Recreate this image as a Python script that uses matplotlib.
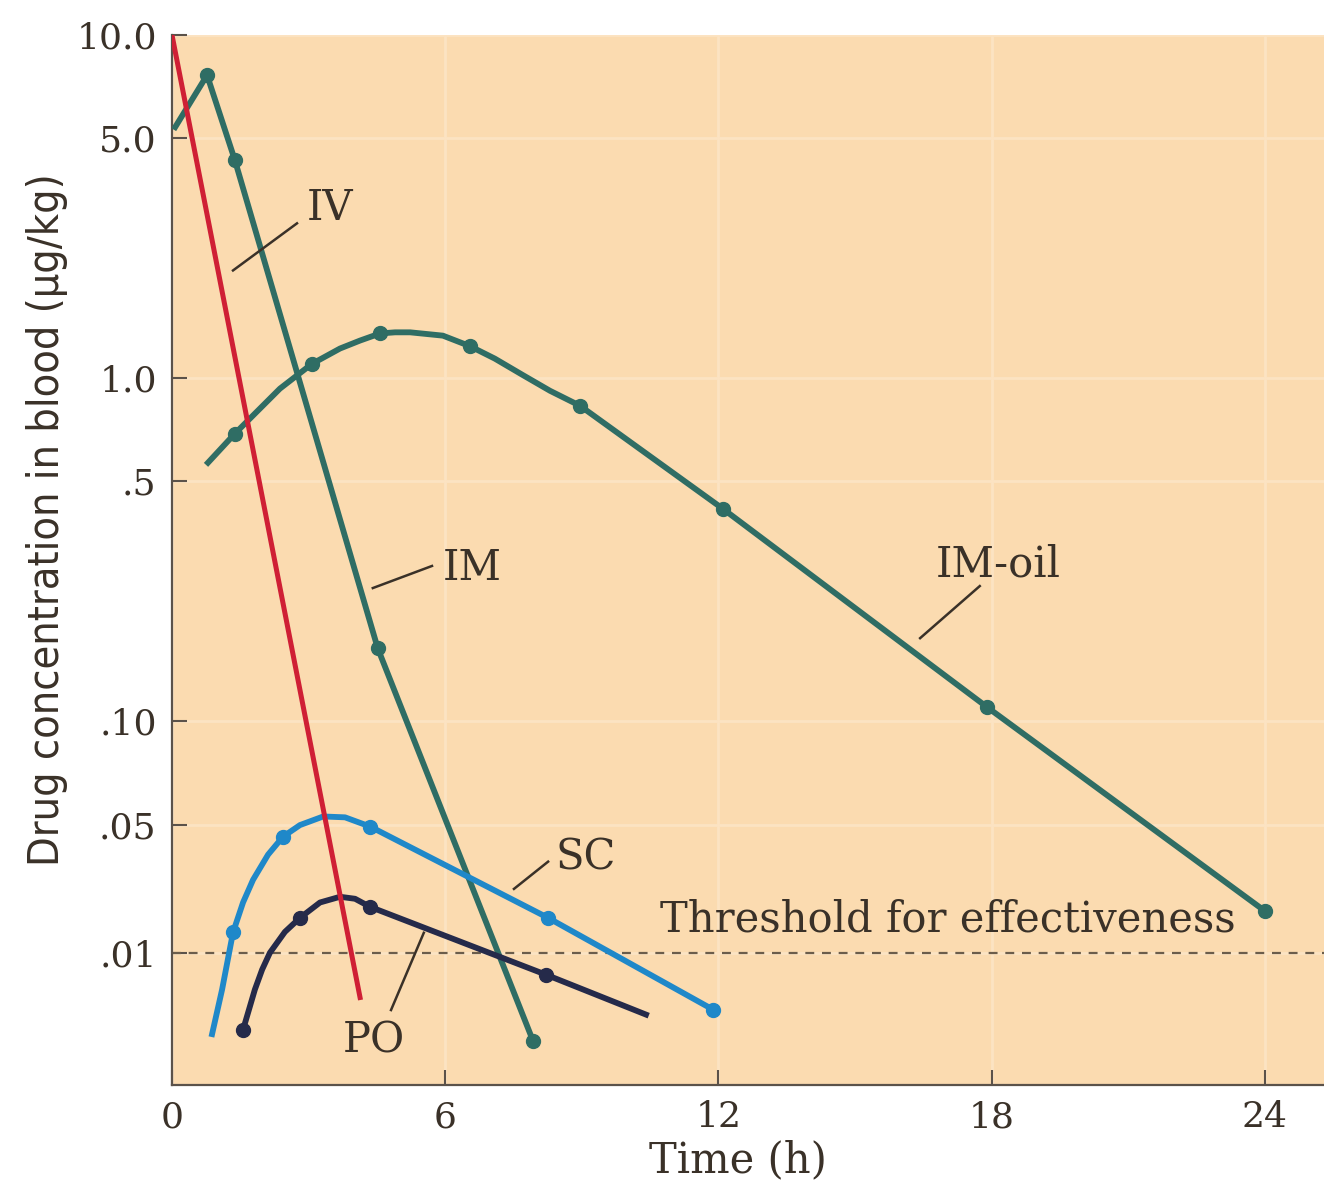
import numpy as np
import matplotlib
matplotlib.use('Agg')
import matplotlib.pyplot as plt

# values: time (h) and drug concentration (ug/kg)
iv_t = [0.0, 4.13]
iv_c = [10.0, 0.0057]

im_t = [0.07, 0.77, 1.38, 4.52, 7.93]
im_c = [5.39, 7.64, 4.32, 0.163, 0.0033]
im_marks = [1, 2, 3, 4]

oil_t = [0.79, 1.38, 2.37, 3.07, 3.69, 4.13, 4.57, 4.90, 5.23, 5.95, 6.54, 7.09, 7.71, 8.30, 8.96,
         12.1, 17.9, 24.0]
oil_c = [0.567, 0.689, 0.932, 1.10, 1.22, 1.287, 1.35, 1.36, 1.36, 1.33, 1.24, 1.14, 1.02, 0.919, 0.831,
         0.416, 0.110, 0.0169]
oil_marks = [1, 3, 6, 10, 14, 15, 16, 17]

sc_t = [0.88, 1.10, 1.34, 1.56, 1.78, 2.11, 2.44, 2.81, 3.32, 3.80, 4.35, 8.26, 11.88]
sc_c = [0.0036, 0.0063, 0.0129, 0.0188, 0.025, 0.0343, 0.043, 0.0497, 0.0528, 0.0525, 0.0488, 0.0155, 0.0049]
sc_marks = [2, 6, 10, 11, 12]

po_t = [1.56, 1.82, 1.98, 2.15, 2.48, 2.81, 3.25, 3.69, 4.02, 4.35, 8.21, 10.41]
po_c = [0.0038, 0.0063, 0.0081, 0.0100, 0.0130, 0.0155, 0.0188, 0.0202, 0.0197, 0.0178, 0.0076, 0.0046]
po_marks = [0, 5, 9, 10]

threshold = 0.01
xticks = [0, 6, 12, 18, 24]
yticks = [10.0, 5.0, 1.0, 0.5, 0.10, 0.05, 0.01]
yticklabels = ['10.0', '5.0', '1.0', '.5', '.10', '.05', '.01']

bg = '#fbdbb0'
txt = '#3a3128'
c_iv = '#cf1f35'
c_im = '#2f6d64'
c_sc = '#1f88c9'
c_po = '#252a4a'

# log axis, but the decade below .05 is squeezed like in the original drawing
L = np.log10(0.05)
k = 183 / 342.5

def fwd(v):
    u = np.log10(np.clip(np.asarray(v, float), 1e-9, None))
    return np.where(u < L, L + (u - L) * k, u)

def inv(u):
    u = np.asarray(u, float)
    return np.where(u < L, 10 ** (L + (u - L) / k), 10 ** u)

fig = plt.figure(figsize=(13.24, 11.88), dpi=100)
ax = fig.add_axes([172/1324, 1 - 1085/1188, 1 - 172/1324, (1085 - 35)/1188])
ax.set_facecolor(bg)
ax.set_yscale('function', functions=(fwd, inv))
ax.set_xlim(0, 25.3)
ax.set_ylim(0.0019, 10.0)

ax.grid(True, color='#fce3c2', lw=2, zorder=0)
ax.set_axisbelow(True)

ax.axhline(threshold, color='#6b5d4b', lw=1.6, ls=(0, (4, 3.5)), zorder=1)

lw = 4.2
ax.plot(oil_t, oil_c, color=c_im, lw=lw, marker='o', ms=10, markevery=oil_marks, zorder=3)
ax.plot(im_t, im_c, color=c_im, lw=lw, marker='o', ms=10, markevery=im_marks, zorder=3)
ax.plot(po_t, po_c, color=c_po, lw=lw, marker='o', ms=10, markevery=po_marks, zorder=4)
ax.plot(sc_t, sc_c, color=c_sc, lw=lw, marker='o', ms=10, markevery=sc_marks, zorder=5)
ax.plot(iv_t, iv_c, color=c_iv, lw=3.6, zorder=6)

# curve labels with short leader lines
labels = [
    ('IV', (3.47, 3.13), [(2.745, 2.826), (1.34, 2.06)]),
    ('IM', (6.59, 0.280), [(5.71, 0.2836), (4.41, 0.2445)]),
    ('IM-oil', (18.14, 0.287), [(17.74, 0.2478), (16.43, 0.1747)]),
    ('SC', (9.09, 0.0330), [(8.26, 0.0314), (7.51, 0.0223)]),
    ('PO', (4.44, 0.00334), [(4.81, 0.00487), (5.53, 0.01285)]),
]
for name, pos, lead in labels:
    ax.text(pos[0], pos[1], name, ha='center', va='center', fontsize=30,
            family='DejaVu Serif', color=txt, zorder=7)
    ax.plot([lead[0][0], lead[1][0]], [lead[0][1], lead[1][1]], color=txt, lw=1.8, zorder=7)

ax.text(10.72, 0.0151, 'Threshold for effectiveness', ha='left', va='center', fontsize=30,
        family='DejaVu Serif', color=txt, zorder=7)

for s in ['top', 'right']:
    ax.spines[s].set_visible(False)
for s in ['left', 'bottom']:
    ax.spines[s].set_color('#5b524a')
    ax.spines[s].set_linewidth(1.6)

ax.set_xticks(xticks)
ax.set_yticks(yticks)
ax.set_yticklabels(yticklabels)
ax.minorticks_off()
ax.tick_params(direction='in', length=11, width=1.5, color='#5b524a', labelcolor=txt,
               labelsize=26)
ax.tick_params(axis='y', pad=11)
ax.tick_params(axis='x', pad=11)
for lab in ax.get_xticklabels() + ax.get_yticklabels():
    lab.set_family('DejaVu Serif')

ax.set_xlabel('Time (h)', fontsize=30, family='DejaVu Serif', color=txt)
ax.xaxis.set_label_coords(0.491, -0.052)
ax.set_ylabel('Drug concentration in blood (µg/kg)', fontsize=31,
              family='DejaVu Sans', fontstretch='condensed', color=txt)
ax.yaxis.set_label_coords(-0.09, 0.538)

fig.savefig('out.png', dpi=100, facecolor='white')
